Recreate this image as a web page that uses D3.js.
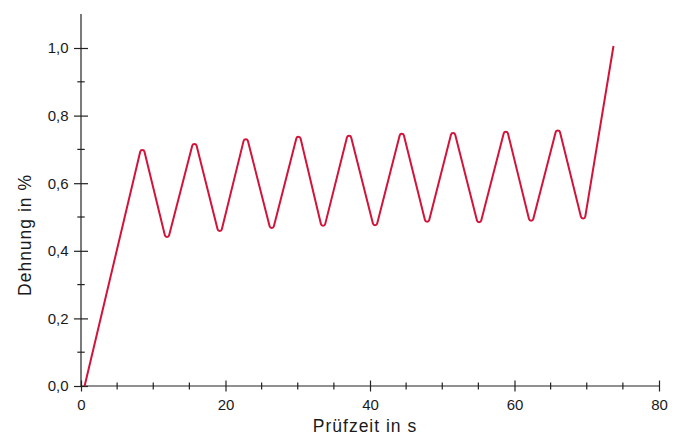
<!DOCTYPE html>
<html>
<head>
<meta charset="utf-8">
<script src="https://cdn.jsdelivr.net/npm/d3@7"></script>
<style>
  body { margin: 0; background: #fff; }
  svg { display: block; font-family: "Liberation Sans", Arial, sans-serif; }
</style>
</head>
<body>
<svg id="chart" width="686" height="437"></svg>
<script>
// Umkehrpunkte der Kurve (Prüfzeit in s / Dehnung in %)
const pruefzeit = [0.5, 8.5, 11.9, 15.7, 19.2, 22.8, 26.4, 30.1, 33.5, 37.1, 40.7,
  44.4, 47.9, 51.5, 55.1, 58.8, 62.3, 66.0, 69.5, 73.7];
const dehnung = [0.0, 0.700, 0.438, 0.719, 0.456, 0.733, 0.465, 0.740, 0.471, 0.743, 0.473,
  0.749, 0.483, 0.751, 0.482, 0.755, 0.486, 0.759, 0.493, 1.006];

const xTicksMajor = [0, 20, 40, 60, 80];
const xTicksMinor = [5, 10, 15, 25, 30, 35, 45, 50, 55, 65, 70, 75];
const yTicksMajor = [0, 0.2, 0.4, 0.6, 0.8, 1.0];
const yTicksMinor = [0.1, 0.3, 0.5, 0.7, 0.9];

const svg = d3.select("#chart");
const x = d3.scaleLinear().domain([0, 80]).range([81, 659]);
const y = d3.scaleLinear().domain([0, 1]).range([386, 48]);

const deFormat = d3.formatLocale({ decimal: ",", thousands: ".", grouping: [3], currency: ["", "€"] }).format(".1f");
const farbe = "#d2143a";
const achse = "#222";

// Achsenlinien
svg.append("line").attr("x1", x(0)).attr("x2", x(80)).attr("y1", y(0)).attr("y2", y(0))
  .attr("stroke", achse).attr("stroke-width", 1.2);
svg.append("line").attr("x1", x(0)).attr("x2", x(0)).attr("y1", 14).attr("y2", y(0))
  .attr("stroke", achse).attr("stroke-width", 1.2);

// x-Achse
const gx = svg.append("g").attr("transform", `translate(0,${y(0)})`)
  .call(d3.axisBottom(x).tickValues(xTicksMajor).tickFormat(d3.format("d")).tickSize(5.5).tickPadding(8));
gx.select(".domain").remove();
gx.selectAll(".tick line").attr("y1", -5.5).attr("y2", 5.5).attr("stroke", achse).attr("stroke-width", 1.2);
gx.selectAll(".tick text").attr("font-size", 15).attr("fill", "#1a1a1a").attr("font-family", null);
svg.append("g").selectAll("line").data(xTicksMinor).join("line")
  .attr("x1", d => x(d)).attr("x2", d => x(d)).attr("y1", y(0) - 3.5).attr("y2", y(0) + 3.5)
  .attr("stroke", achse).attr("stroke-width", 1.2);

// y-Achse
const gy = svg.append("g").attr("transform", `translate(${x(0)},0)`)
  .call(d3.axisLeft(y).tickValues(yTicksMajor).tickFormat(deFormat).tickSize(7).tickPadding(5.5));
gy.select(".domain").remove();
gy.selectAll(".tick line").attr("x1", -7).attr("x2", 7).attr("stroke", achse).attr("stroke-width", 1.2);
gy.selectAll(".tick text").attr("font-size", 15).attr("fill", "#1a1a1a").attr("font-family", null);
svg.append("g").selectAll("line").data(yTicksMinor).join("line")
  .attr("y1", d => y(d)).attr("y2", d => y(d)).attr("x1", x(0) - 3.7).attr("x2", x(0) + 3.7)
  .attr("stroke", achse).attr("stroke-width", 1.2);

// Achsentitel
svg.append("text").attr("x", 365).attr("y", 432).attr("text-anchor", "middle")
  .attr("font-size", 17.5).attr("letter-spacing", 1).attr("fill", "#1a1a1a").text("Prüfzeit in s");
svg.append("text").attr("transform", "translate(31,235) rotate(-90)").attr("text-anchor", "middle")
  .attr("font-size", 17.5).attr("letter-spacing", 1).attr("fill", "#1a1a1a").text("Dehnung in %");

// Kurve mit abgerundeten Spitzen: die Rundung (Radius rho) berührt den Umkehrpunkt,
// die gedachte Ecke liegt etwas weiter außen
function abgerundet(pts, rho) {
  const ecken = pts.map((b, i) => {
    if (i === 0 || i === pts.length - 1) return b;
    const a = pts[i - 1], c = pts[i + 1];
    const l1 = Math.hypot(b[0] - a[0], b[1] - a[1]), l2 = Math.hypot(c[0] - b[0], c[1] - b[1]);
    const u1 = [(b[0] - a[0]) / l1, (b[1] - a[1]) / l1], u2 = [(c[0] - b[0]) / l2, (c[1] - b[1]) / l2];
    const cosT = -(u1[0] * u2[0] + u1[1] * u2[1]);
    const sinHalf = Math.sqrt((1 - cosT) / 2);
    const off = rho * (1 / sinHalf - 1);
    const bis = [u1[0] - u2[0], u1[1] - u2[1]], bl = Math.hypot(bis[0], bis[1]);
    return [b[0] + bis[0] / bl * off, b[1] + bis[1] / bl * off];
  });
  const p = d3.path();
  p.moveTo(ecken[0][0], ecken[0][1]);
  for (let i = 1; i < ecken.length - 1; i++) {
    p.arcTo(ecken[i][0], ecken[i][1], ecken[i + 1][0], ecken[i + 1][1], rho);
  }
  const last = ecken[ecken.length - 1];
  p.lineTo(last[0], last[1]);
  return p.toString();
}
const punkte = pruefzeit.map((t, i) => [x(t), y(dehnung[i])]);
svg.append("path").attr("d", abgerundet(punkte, 2.2))
  .attr("fill", "none").attr("stroke", farbe).attr("stroke-width", 2).attr("stroke-linejoin", "round");
</script>
</body>
</html>
